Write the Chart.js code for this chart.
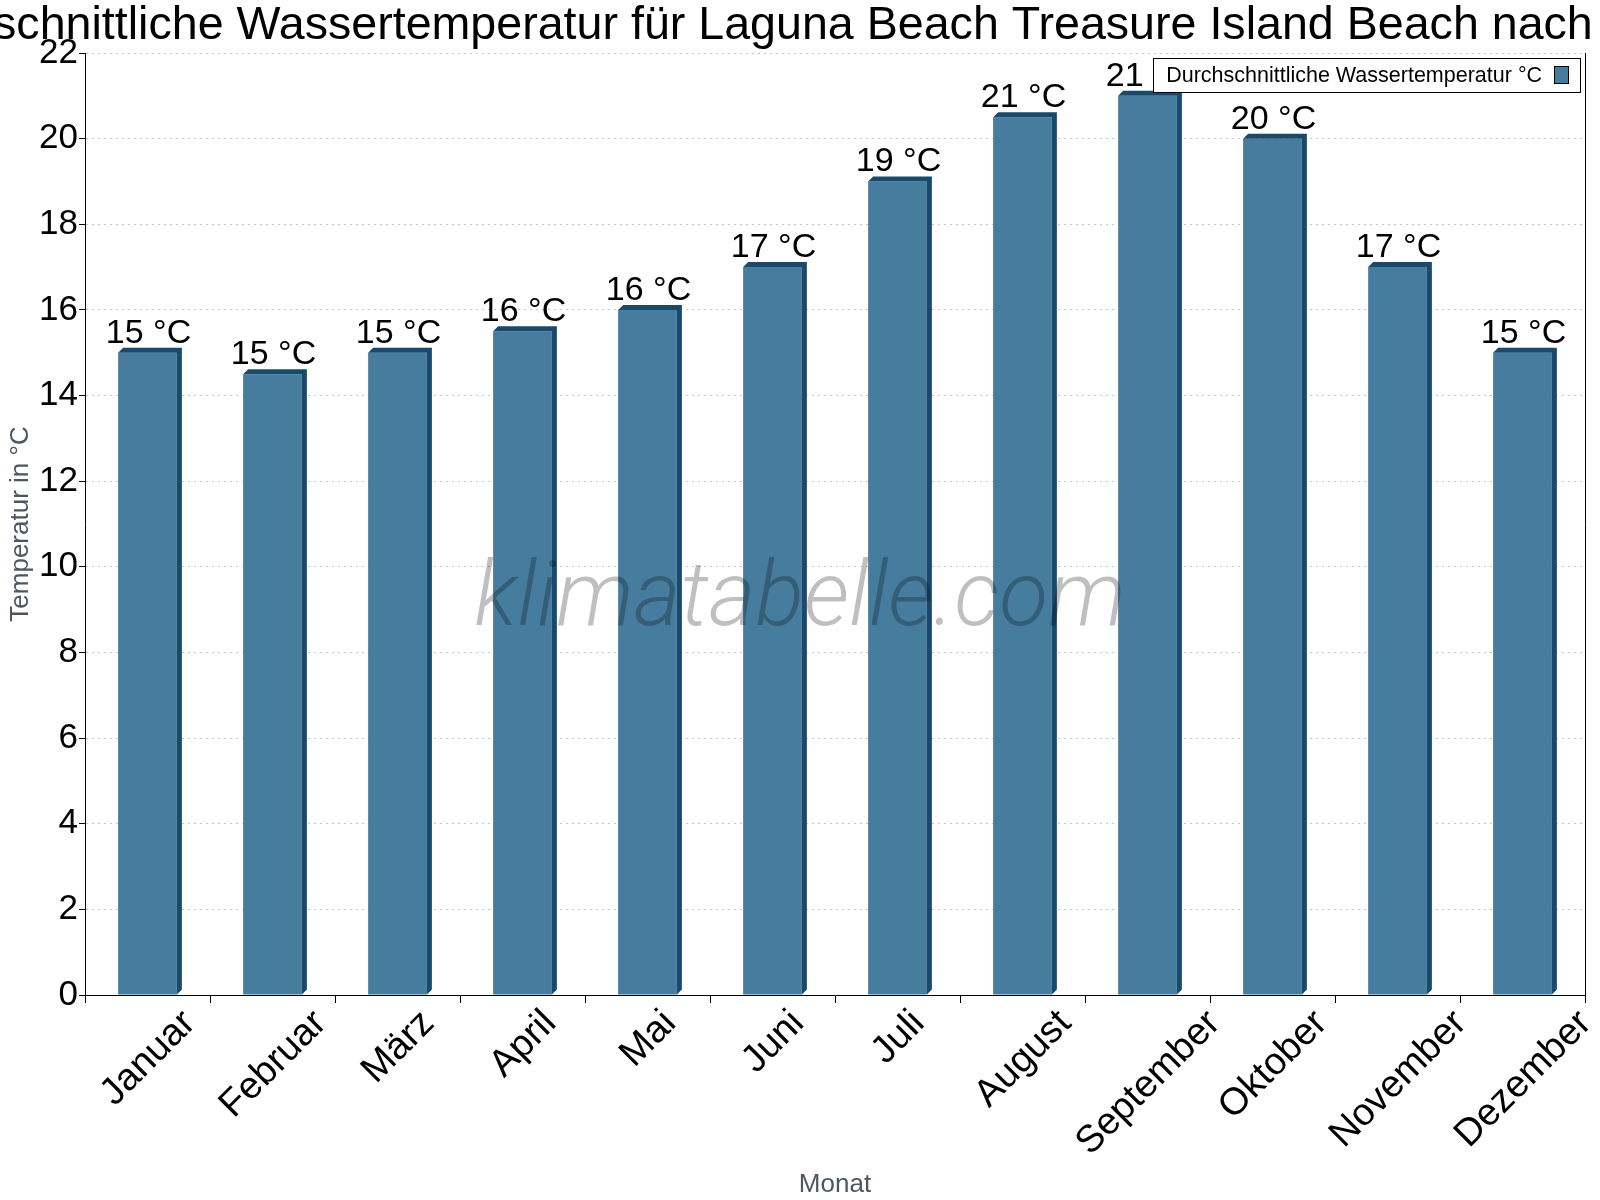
<!DOCTYPE html>
<html>
<head>
<meta charset="utf-8">
<script src="https://cdn.jsdelivr.net/npm/chart.js@4.4.1/dist/chart.umd.min.js"></script>
<style>
  body { margin: 0; background: #fff; }
  #chartDiv { width: 1600px; height: 1200px; }
</style>
</head>
<body>
<div id="chartDiv"><canvas id="barChart" width="1600" height="1200"></canvas></div>
<script>
var chartTitle = 'Durchschnittliche Wassertemperatur für Laguna Beach Treasure Island Beach nach Monat';
var seriesLabel = 'Durchschnittliche Wassertemperatur °C';
var months = ['Januar', 'Februar', 'März', 'April', 'Mai', 'Juni', 'Juli', 'August', 'September', 'Oktober', 'November', 'Dezember'];
var waterTemp = [15, 14.5, 15, 15.5, 16, 17, 19, 20.5, 21, 20, 17, 15];
var yMin = 0, yMax = 22, yStep = 2;

var frontBlue = '#467c9e';
var darkBlue = '#1a4a6b';
var fontFam = '"Liberation Sans", Arial, sans-serif';
var myChart = null;

Chart.defaults.font.family = fontFam;

// side + top faces of the bars, and the value labels
var bar3d = {
  id: 'bar3d',
  afterDatasetsDraw: function(chart) {
    var ctx = chart.ctx;
    var meta = chart.getDatasetMeta(0);
    var d = 5;
    ctx.save();
    ctx.fillStyle = darkBlue;
    meta.data.forEach(function(bar) {
      var x0 = bar.x - bar.width / 2, x1 = bar.x + bar.width / 2;
      var top = bar.y, base = bar.base;
      ctx.beginPath();
      ctx.moveTo(x0, top);
      ctx.lineTo(x0 + d, top - d);
      ctx.lineTo(x1 + d, top - d);
      ctx.lineTo(x1 + d, base - d);
      ctx.lineTo(x1, base);
      ctx.lineTo(x1, top);
      ctx.closePath();
      ctx.fill();
    });
    ctx.fillStyle = '#000';
    ctx.font = '34px ' + fontFam;
    ctx.textAlign = 'center';
    ctx.textBaseline = 'alphabetic';
    meta.data.forEach(function(bar, i) {
      ctx.fillText(Math.round(waterTemp[i]) + ' °C', bar.x + 1, bar.y - d - 5);
    });
    ctx.restore();
  }
};

// rotated month labels, centred under each bar
var monthLabels = {
  id: 'monthLabels',
  afterDraw: function(chart) {
    var ctx = chart.ctx;
    var xs = chart.scales.x;
    var fs = 38;
    ctx.save();
    ctx.font = fs + 'px ' + fontFam;
    ctx.fillStyle = '#000';
    ctx.textAlign = 'center';
    ctx.textBaseline = 'middle';
    months.forEach(function(m, i) {
      var x = xs.getPixelForTick(i);
      var w = ctx.measureText(m).width;
      var half = (w + fs * 0.85) * Math.SQRT1_2 / 2;
      ctx.save();
      ctx.translate(x + 1, xs.top + 11 + half);
      ctx.rotate(-Math.PI / 4);
      ctx.fillText(m, 0, 0);
      ctx.restore();
    });
    ctx.restore();
  }
};

// title (not squeezed, may run off the canvas), watermark, boxed legend
var overlay = {
  id: 'overlay',
  afterDraw: function(chart) {
    var ctx = chart.ctx;
    var area = chart.chartArea;
    ctx.save();
    ctx.font = '46.6px ' + fontFam;
    ctx.fillStyle = '#000';
    ctx.textAlign = 'center';
    ctx.textBaseline = 'alphabetic';
    ctx.fillText(chartTitle, 802, 39);

    ctx.font = 'italic 300 90px Roboto, "Open Sans", sans-serif';
    ctx.fillStyle = 'rgba(0,0,0,0.25)';
    ctx.fillText('klimatabelle.com', 800, 625);

    ctx.font = '21.5px ' + fontFam;
    var tw = ctx.measureText(seriesLabel).width;
    var right = area.right - 5, top = area.top + 5, h = 34;
    var left = right - (13 + tw + 12 + 14 + 12);
    ctx.fillStyle = '#fff';
    ctx.fillRect(left, top, right - left, h);
    ctx.strokeStyle = '#000';
    ctx.lineWidth = 1;
    ctx.strokeRect(Math.round(left) + 0.5, top + 0.5, Math.round(right - left), h);
    ctx.fillStyle = '#000';
    ctx.textAlign = 'left';
    ctx.textBaseline = 'middle';
    ctx.fillText(seriesLabel, left + 13, top + h / 2 + 1);
    var bx = left + 13 + tw + 12;
    ctx.fillStyle = frontBlue;
    ctx.fillRect(bx, top + 8, 14, 17);
    ctx.strokeRect(Math.round(bx) + 0.5, top + 8.5, 14, 17);
    ctx.restore();
  }
};

function barChart() {
  var ctx = document.getElementById('barChart').getContext('2d');
  myChart = new Chart(ctx, {
    type: 'bar',
    data: {
      labels: months,
      datasets: [{
        label: seriesLabel,
        data: waterTemp,
        yAxisID: 'y',
        backgroundColor: frontBlue,
        borderWidth: 0,
        barPercentage: 0.47,
        categoryPercentage: 1.0
      }]
    },
    options: {
      responsive: false,
      animation: false,
      layout: { padding: { left: 0, right: 0, top: 53, bottom: 0 } },
      plugins: {
        legend: { display: false },
        tooltip: { enabled: false },
        title: { display: false }
      },
      scales: {
        x: {
          ticks: { display: false },
          grid: { display: true, drawOnChartArea: false, drawTicks: true, tickLength: 8, tickColor: '#000', offset: true },
          border: { display: true, color: '#000', width: 1 },
          title: { display: true, text: 'Monat', color: '#4d5661', font: { size: 26 }, padding: { top: 0, bottom: 0 } },
          afterFit: function(s) { s.height = 205; }
        },
        y: {
          min: yMin,
          max: yMax,
          ticks: { stepSize: yStep, color: '#000', font: { size: 35 }, padding: 1 },
          grid: { color: '#c8c8c8', tickColor: '#000', tickLength: 6, tickBorderDash: [] },
          border: { display: true, color: '#000', width: 1, dash: [2, 4] },
          title: { display: true, text: 'Temperatur in °C', color: '#4d5661', font: { size: 26 }, padding: { top: 5, bottom: 0 } },
          afterFit: function(s) { s.width = 85; }
        },
        y2: {
          position: 'right',
          min: yMin,
          max: yMax,
          ticks: { display: false },
          grid: { display: false, drawOnChartArea: false },
          border: { display: true, color: '#000', width: 1 },
          afterFit: function(s) { s.width = 15; }
        }
      }
    },
    plugins: [bar3d, monthLabels, overlay]
  });
}

barChart();
</script>
</body>
</html>
